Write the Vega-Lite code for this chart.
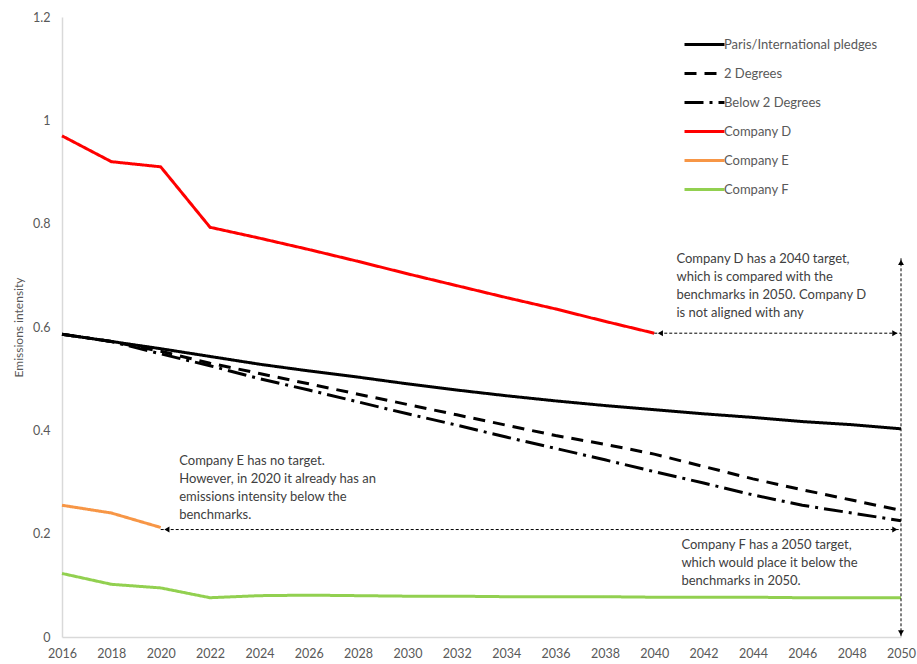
{
  "$schema": "https://vega.github.io/schema/vega-lite/v6.json",
  "autosize": "none",
  "width": 839,
  "height": 620,
  "padding": {"left": 62, "top": 17, "right": 16, "bottom": 27},
  "background": "white",
  "config": {
    "view": {"stroke": null},
    "font": "Lato",
    "axis": {"grid": false, "ticks": false, "domainColor": "#d9d9d9", "domainWidth": 1.5, "labelColor": "#595959", "labelFontSize": 12.5, "labelFont": "Lato", "titleFont": "Lato", "titleColor": "#595959", "titleFontWeight": "normal"}
  },
  "datasets": {
    "lines": [
      {"series": "Paris/International pledges", "year": 2016, "value": 0.586},
      {"series": "Paris/International pledges", "year": 2018, "value": 0.572},
      {"series": "Paris/International pledges", "year": 2020, "value": 0.558},
      {"series": "Paris/International pledges", "year": 2022, "value": 0.543},
      {"series": "Paris/International pledges", "year": 2024, "value": 0.528},
      {"series": "Paris/International pledges", "year": 2026, "value": 0.515},
      {"series": "Paris/International pledges", "year": 2028, "value": 0.503},
      {"series": "Paris/International pledges", "year": 2030, "value": 0.49},
      {"series": "Paris/International pledges", "year": 2032, "value": 0.478},
      {"series": "Paris/International pledges", "year": 2034, "value": 0.467},
      {"series": "Paris/International pledges", "year": 2036, "value": 0.457},
      {"series": "Paris/International pledges", "year": 2038, "value": 0.448},
      {"series": "Paris/International pledges", "year": 2040, "value": 0.44},
      {"series": "Paris/International pledges", "year": 2042, "value": 0.432},
      {"series": "Paris/International pledges", "year": 2044, "value": 0.425},
      {"series": "Paris/International pledges", "year": 2046, "value": 0.417},
      {"series": "Paris/International pledges", "year": 2048, "value": 0.411},
      {"series": "Paris/International pledges", "year": 2050, "value": 0.403},
      {"series": "2 Degrees", "year": 2016, "value": 0.586},
      {"series": "2 Degrees", "year": 2018, "value": 0.572},
      {"series": "2 Degrees", "year": 2020, "value": 0.553},
      {"series": "2 Degrees", "year": 2022, "value": 0.53},
      {"series": "2 Degrees", "year": 2024, "value": 0.51},
      {"series": "2 Degrees", "year": 2026, "value": 0.49},
      {"series": "2 Degrees", "year": 2028, "value": 0.47},
      {"series": "2 Degrees", "year": 2030, "value": 0.45},
      {"series": "2 Degrees", "year": 2032, "value": 0.43},
      {"series": "2 Degrees", "year": 2034, "value": 0.41},
      {"series": "2 Degrees", "year": 2036, "value": 0.39},
      {"series": "2 Degrees", "year": 2038, "value": 0.373},
      {"series": "2 Degrees", "year": 2040, "value": 0.354},
      {"series": "2 Degrees", "year": 2042, "value": 0.33},
      {"series": "2 Degrees", "year": 2044, "value": 0.306},
      {"series": "2 Degrees", "year": 2046, "value": 0.285},
      {"series": "2 Degrees", "year": 2048, "value": 0.265},
      {"series": "2 Degrees", "year": 2050, "value": 0.245},
      {"series": "Below 2 Degrees", "year": 2016, "value": 0.586},
      {"series": "Below 2 Degrees", "year": 2018, "value": 0.572},
      {"series": "Below 2 Degrees", "year": 2020, "value": 0.548},
      {"series": "Below 2 Degrees", "year": 2022, "value": 0.525},
      {"series": "Below 2 Degrees", "year": 2024, "value": 0.5},
      {"series": "Below 2 Degrees", "year": 2026, "value": 0.478},
      {"series": "Below 2 Degrees", "year": 2028, "value": 0.455},
      {"series": "Below 2 Degrees", "year": 2030, "value": 0.432},
      {"series": "Below 2 Degrees", "year": 2032, "value": 0.41},
      {"series": "Below 2 Degrees", "year": 2034, "value": 0.387},
      {"series": "Below 2 Degrees", "year": 2036, "value": 0.365},
      {"series": "Below 2 Degrees", "year": 2038, "value": 0.343},
      {"series": "Below 2 Degrees", "year": 2040, "value": 0.32},
      {"series": "Below 2 Degrees", "year": 2042, "value": 0.298},
      {"series": "Below 2 Degrees", "year": 2044, "value": 0.275},
      {"series": "Below 2 Degrees", "year": 2046, "value": 0.255},
      {"series": "Below 2 Degrees", "year": 2048, "value": 0.24},
      {"series": "Below 2 Degrees", "year": 2050, "value": 0.225},
      {"series": "Company D", "year": 2016, "value": 0.97},
      {"series": "Company D", "year": 2018, "value": 0.92},
      {"series": "Company D", "year": 2020, "value": 0.91},
      {"series": "Company D", "year": 2022, "value": 0.793},
      {"series": "Company D", "year": 2024, "value": 0.772},
      {"series": "Company D", "year": 2026, "value": 0.75},
      {"series": "Company D", "year": 2028, "value": 0.727},
      {"series": "Company D", "year": 2030, "value": 0.703},
      {"series": "Company D", "year": 2032, "value": 0.68},
      {"series": "Company D", "year": 2034, "value": 0.657},
      {"series": "Company D", "year": 2036, "value": 0.635},
      {"series": "Company D", "year": 2038, "value": 0.611},
      {"series": "Company D", "year": 2040, "value": 0.588},
      {"series": "Company E", "year": 2016, "value": 0.255},
      {"series": "Company E", "year": 2018, "value": 0.24},
      {"series": "Company E", "year": 2020, "value": 0.212},
      {"series": "Company F", "year": 2016, "value": 0.123},
      {"series": "Company F", "year": 2018, "value": 0.102},
      {"series": "Company F", "year": 2020, "value": 0.095},
      {"series": "Company F", "year": 2022, "value": 0.076},
      {"series": "Company F", "year": 2024, "value": 0.08},
      {"series": "Company F", "year": 2026, "value": 0.081},
      {"series": "Company F", "year": 2028, "value": 0.08},
      {"series": "Company F", "year": 2030, "value": 0.079},
      {"series": "Company F", "year": 2032, "value": 0.079},
      {"series": "Company F", "year": 2034, "value": 0.078},
      {"series": "Company F", "year": 2036, "value": 0.078},
      {"series": "Company F", "year": 2038, "value": 0.078},
      {"series": "Company F", "year": 2040, "value": 0.077},
      {"series": "Company F", "year": 2042, "value": 0.077},
      {"series": "Company F", "year": 2044, "value": 0.077},
      {"series": "Company F", "year": 2046, "value": 0.076},
      {"series": "Company F", "year": 2048, "value": 0.076},
      {"series": "Company F", "year": 2050, "value": 0.076}
    ],
    "notes": [
      {"year": 2040.9, "value": 0.743, "text": "Company D has a 2040 target,\nwhich is compared with the\nbenchmarks in 2050. Company D\nis not aligned with any"},
      {"year": 2020.75, "value": 0.352, "text": "Company E has no target.\nHowever, in 2020 it already has an\nemissions intensity below the\nbenchmarks."},
      {"year": 2041.1, "value": 0.19, "text": "Company F has a 2050 target,\nwhich would place it below the\nbenchmarks in 2050."}
    ],
    "rules": [
      {"x1": 2040, "y1": 0.588, "x2": 2050, "y2": 0.588},
      {"x1": 2020, "y1": 0.208, "x2": 2050, "y2": 0.208},
      {"x1": 2050, "y1": 0.733, "x2": 2050, "y2": 0.0}
    ],
    "heads": [
      {"year": 2040.25, "value": 0.588, "dir": "left"},
      {"year": 2049.75, "value": 0.588, "dir": "right"},
      {"year": 2020.25, "value": 0.208, "dir": "left"},
      {"year": 2049.75, "value": 0.208, "dir": "right"},
      {"year": 2050, "value": 0.725, "dir": "up"},
      {"year": 2050, "value": 0.008, "dir": "down"}
    ]
  },
  "layer": [
    {
      "data": {"name": "lines"},
      "mark": {"type": "line", "strokeWidth": 3, "strokeCap": "butt"},
      "encoding": {
        "x": {"field": "year", "type": "quantitative", "scale": {"domain": [2016, 2050], "nice": false, "zero": false},
              "axis": {"values": [2016,2018,2020,2022,2024,2026,2028,2030,2032,2034,2036,2038,2040,2042,2044,2046,2048,2050], "format": "d", "title": null, "labelPadding": 10, "labelFlush": false}},
        "y": {"field": "value", "type": "quantitative", "scale": {"domain": [0, 1.2], "nice": false},
              "axis": {"values": [0,0.2,0.4,0.6,0.8,1,1.2], "format": "~g", "title": "Emissions intensity", "labelPadding": 12, "titlePadding": 7, "titleFontSize": 12}},
        "color": {"field": "series", "type": "nominal",
                  "scale": {"domain": ["Paris/International pledges", "2 Degrees", "Below 2 Degrees", "Company D", "Company E", "Company F"], "range": ["#000000", "#000000", "#000000", "#ff0000", "#f79646", "#92d050"]},
                  "legend": {"title": null, "orient": "none", "legendX": 621, "legendY": 6, "symbolType": "stroke", "symbolSize": 1600, "symbolStrokeWidth": 3, "labelFontSize": 13, "labelColor": "#595959", "labelFont": "Lato", "rowPadding": -5, "labelOffset": -2}},
        "strokeDash": {"field": "series", "type": "nominal",
                  "scale": {"domain": ["Paris/International pledges", "2 Degrees", "Below 2 Degrees", "Company D", "Company E", "Company F"], "range": [[1,0],[12,8],[19,6,3,6],[1,0],[1,0],[1,0]]},
                  "legend": {"title": null, "orient": "none", "legendX": 621, "legendY": 6, "symbolType": "stroke", "symbolSize": 1600, "symbolStrokeWidth": 3, "labelFontSize": 13, "labelColor": "#595959", "labelFont": "Lato", "rowPadding": -5, "labelOffset": -2}},
        "order": {"field": "year", "type": "quantitative"}
      }
    },
    {
      "data": {"name": "rules"},
      "mark": {"type": "rule", "color": "#000000", "strokeWidth": 1, "strokeDash": [3, 2]},
      "encoding": {
        "x": {"field": "x1", "type": "quantitative"},
        "y": {"field": "y1", "type": "quantitative"},
        "x2": {"field": "x2"},
        "y2": {"field": "y2"}
      }
    },
    {
      "data": {"name": "heads"},
      "mark": {"type": "point", "filled": true, "color": "#000000", "opacity": 1, "size": 35},
      "encoding": {
        "x": {"field": "year", "type": "quantitative"},
        "y": {"field": "value", "type": "quantitative"},
        "shape": {"field": "dir", "type": "nominal", "scale": {"domain": ["left", "right", "up", "down"], "range": ["triangle-left", "triangle-right", "triangle-up", "triangle-down"]}, "legend": null}
      }
    },
    {
      "data": {"name": "notes"},
      "mark": {"type": "text", "align": "left", "baseline": "top", "lineBreak": "\n", "lineHeight": 18, "fontSize": 13, "font": "Lato", "color": "#404040"},
      "encoding": {
        "x": {"field": "year", "type": "quantitative"},
        "y": {"field": "value", "type": "quantitative"},
        "text": {"field": "text"}
      }
    }
  ]
}
